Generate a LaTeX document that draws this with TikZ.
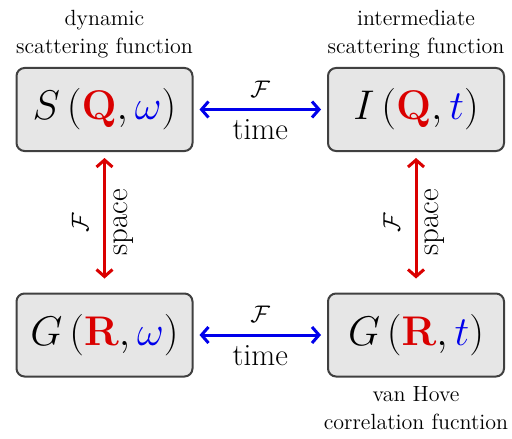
\documentclass[tikz,border=0pt]{standalone}
\usetikzlibrary{arrows.meta,positioning}

\definecolor{qred}{RGB}{218,0,0}
\definecolor{wblue}{RGB}{0,0,235}
\definecolor{boxgray}{RGB}{230,230,230}
\definecolor{edgegray}{RGB}{64,64,64}

\newcommand{\Qvec}{\textcolor{qred}{\mathbf{Q}}}
\newcommand{\Rvec}{\textcolor{qred}{\mathbf{R}}}
\newcommand{\omg}{\textcolor{wblue}{\omega}}
\newcommand{\tim}{\textcolor{wblue}{t}}

\tikzset{
  fbox/.style={draw=edgegray, fill=boxgray, line width=1pt, rounded corners=4pt,
    minimum width=88pt, minimum height=41.5pt, font=\fontsize{19.5}{23}\selectfont},
  ftrans/.style={<->, line width=1.5pt},
  flabel/.style={font=\fontsize{11}{14}\selectfont, align=center},
  fword/.style={text=black, font=\fontsize{15.5}{18}\selectfont},
  fsym/.style={text=black, font=\fontsize{13}{16}\selectfont},
}

\begin{document}
\begin{tikzpicture}[>={Straight Barb[length=3.5pt,width=8pt]}, x=0.5pt, y=-0.5pt]
  \useasboundingbox (0,0) rectangle (512,438);

  % the four functions
  \node[fbox] (S)  at (104.5,109.5) {$S\left(\Qvec,\omg\right)$};
  \node[fbox] (I)  at (416,109.5)   {$I\left(\Qvec,\tim\right)$};
  \node[fbox] (Gw) at (104.5,335)   {$G\left(\Rvec,\omg\right)$};
  \node[fbox] (Gt) at (416,335)     {$G\left(\Rvec,\tim\right)$};

  \node[flabel, above=1pt of S]  {dynamic\\scattering function};
  \node[flabel, above=1pt of I]  {intermediate\\scattering function};
  \node[flabel, below=1pt of Gt] {van Hove\\correlation fucntion};

  % Fourier transforms in time
  \draw[ftrans, wblue, shorten <=3pt, shorten >=3pt] (S) -- (I)
    node[fsym, midway, above=2pt] {$\mathcal{F}$}
    node[fword, midway, below=1pt] {time};
  \draw[ftrans, wblue, shorten <=3pt, shorten >=3pt] (Gw) -- (Gt)
    node[fsym, midway, above=2pt] {$\mathcal{F}$}
    node[fword, midway, below=1pt] {time};

  % Fourier transforms in space
  \draw[ftrans, qred, shorten <=7pt, shorten >=3pt] (Gw) -- (S)
    node[fsym, midway, above=4pt, sloped] {$\mathcal{F}$}
    node[fword, midway, below=0.5pt, sloped] {space};
  \draw[ftrans, qred, shorten <=7pt, shorten >=3pt] (Gt) -- (I)
    node[fsym, midway, above=4pt, sloped] {$\mathcal{F}$}
    node[fword, midway, below=0.5pt, sloped] {space};
\end{tikzpicture}
\end{document}
